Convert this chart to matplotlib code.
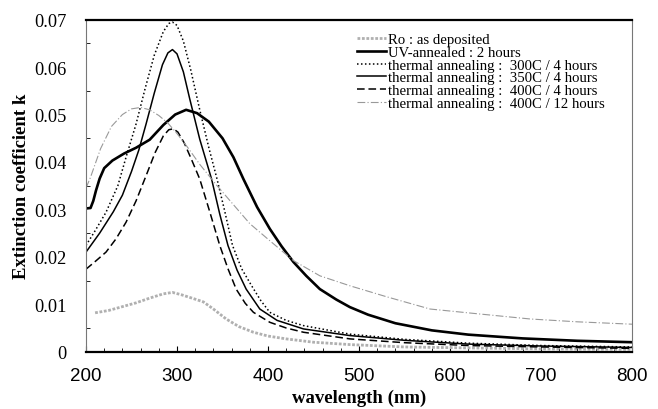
import numpy as np
import matplotlib
matplotlib.use("Agg")
import matplotlib.pyplot as plt

# digitised extinction coefficient k vs wavelength (nm)
wl_ro = [210, 225, 240, 255, 270, 285, 295, 305, 318, 329, 340, 354, 368, 384, 400, 420, 450, 490, 550, 620, 700, 800]
k_ro = [0.0082, 0.0087, 0.0095, 0.0103, 0.0113, 0.0122, 0.0125, 0.0120, 0.0112, 0.0105, 0.0090, 0.0069,
        0.0053, 0.0041, 0.0033, 0.0027, 0.0020, 0.0015, 0.0010, 0.0008, 0.0006, 0.0005]

wl_uv = [200, 205, 208, 211, 215, 220, 229, 242, 255, 270, 285, 298, 310, 322, 335, 350, 362, 373, 388,
         402, 415, 428, 442, 457, 475, 490, 510, 540, 580, 620, 680, 740, 800]
k_uv = [0.0302, 0.0303, 0.0318, 0.0340, 0.0365, 0.0387, 0.0403, 0.0418, 0.0430, 0.0447, 0.0478, 0.0500,
        0.0510, 0.0503, 0.0485, 0.0450, 0.0410, 0.0364, 0.0305, 0.0259, 0.0222, 0.0189, 0.0160, 0.0132,
        0.0110, 0.0094, 0.0078, 0.0060, 0.0045, 0.0036, 0.0028, 0.0023, 0.0020]

wl_300 = [200, 210, 222, 235, 244, 255, 265, 275, 285, 291, 295, 300, 307, 315, 325, 335, 344, 352, 361,
          371, 382, 392, 402, 420, 439, 490, 550, 620, 700, 800]
k_300 = [0.0224, 0.0255, 0.0294, 0.0350, 0.0410, 0.0480, 0.0555, 0.0625, 0.0675, 0.0692, 0.0695, 0.0688,
         0.0655, 0.0595, 0.0510, 0.0430, 0.0364, 0.0300, 0.0224, 0.0175, 0.0139, 0.0108, 0.0083, 0.0066,
         0.0055, 0.0037, 0.0026, 0.0018, 0.0013, 0.0010]

wl_350 = [200, 215, 230, 240, 250, 258, 266, 275, 284, 290, 295, 300, 307, 314, 325, 338, 347, 356, 366,
          376, 391, 410, 439, 490, 550, 620, 700, 800]
k_350 = [0.0210, 0.0250, 0.0295, 0.0330, 0.0380, 0.0425, 0.0480, 0.0545, 0.0605, 0.0630, 0.0637, 0.0628,
         0.0590, 0.0533, 0.0448, 0.0364, 0.0290, 0.0224, 0.0172, 0.0132, 0.0090, 0.0066, 0.0048, 0.0034,
         0.0024, 0.0016, 0.0012, 0.0009]

wl_400 = [200, 210, 222, 233, 244, 255, 266, 276, 285, 291, 296, 301, 308, 316, 325, 336, 347, 356, 365,
          375, 384, 402, 420, 439, 490, 550, 620, 700, 800]
k_400 = [0.0174, 0.0190, 0.0210, 0.0238, 0.0273, 0.0318, 0.0371, 0.0420, 0.0455, 0.0468, 0.0470, 0.0463,
         0.0440, 0.0405, 0.0364, 0.0295, 0.0224, 0.0175, 0.0132, 0.0102, 0.0083, 0.0062, 0.0050, 0.0041,
         0.0027, 0.0019, 0.0013, 0.0010, 0.0007]

wl_12h = [200, 205, 216, 228, 240, 250, 260, 270, 280, 290, 300, 312, 325, 344, 362, 380, 402, 428, 457,
          490, 530, 578, 630, 688, 740, 800]
k_12h = [0.0345, 0.0368, 0.0428, 0.0475, 0.0500, 0.0512, 0.0515, 0.0510, 0.0498, 0.0482, 0.0460, 0.0430,
         0.0395, 0.0350, 0.0310, 0.0270, 0.0234, 0.0192, 0.0160, 0.0139, 0.0116, 0.0090, 0.0080, 0.0069,
         0.0063, 0.0058]

labels = ["Ro : as deposited",
          "UV-annealed : 2 hours",
          "thermal annealing :  300C / 4 hours",
          "thermal annealing :  350C / 4 hours",
          "thermal annealing :  400C / 4 hours",
          "thermal annealing :  400C / 12 hours"]

SERIF = ["Liberation Serif", "DejaVu Serif"]
SANS = ["Liberation Sans", "DejaVu Sans"]

fig = plt.figure(figsize=(6.58, 4.10), dpi=100)
ax = fig.add_axes([86 / 658, 1 - 352.7 / 410, (632 - 86) / 658, (352.7 - 20.7) / 410])

ax.plot(wl_ro, k_ro, color="#b0b0b0", lw=2.0, ls=(0, (1, 0.6)), label=labels[0])
ax.plot(wl_uv, k_uv, color="black", lw=1.9, label=labels[1])
ax.plot(wl_300, k_300, color="black", lw=1.1, ls=(0, (1, 1.6)), label=labels[2])
ax.plot(wl_350, k_350, color="black", lw=1.1, label=labels[3])
ax.plot(wl_400, k_400, color="black", lw=1.1, ls=(0, (5, 2.5)), label=labels[4])
ax.plot(wl_12h, k_12h, color="#999999", lw=0.8, ls=(0, (7, 2, 1, 2)), label=labels[5])

ax.set_xlim(200, 800)
ax.set_ylim(0, 0.07)
ax.set_xticks(np.arange(200, 801, 100))
ax.set_xticks(np.arange(200, 801, 20), minor=True)
ax.set_yticks(np.arange(0, 0.0701, 0.01))
ax.set_yticks(np.arange(0.005, 0.07, 0.01), minor=True)
ax.set_yticklabels(["0"] + [f"{v:.2f}" for v in np.arange(0.01, 0.0701, 0.01)],
                   family=SERIF, fontsize=13.2)
ax.set_xticklabels([str(v) for v in range(200, 801, 100)], family=SANS, fontsize=13.5)
ax.tick_params(axis="x", which="major", direction="in", length=4, width=0.8, pad=11)
ax.tick_params(axis="x", which="minor", direction="in", length=3, width=0.6)
ax.tick_params(axis="y", which="major", length=0, pad=14)
ax.tick_params(axis="y", which="minor", direction="in", length=3, width=0.6)

for side in ("top", "bottom"):
    ax.spines[side].set_linewidth(1.6)
    ax.spines[side].set_color("black")
for side in ("left", "right"):
    ax.spines[side].set_linewidth(0.8)
    ax.spines[side].set_color("#777777")

ax.set_ylabel("Extinction coefficient k", family=SERIF, fontweight="bold", fontsize=13.5)
ax.yaxis.set_label_coords(-0.103, 0.5)
fig.text((86 + 632) / 2 / 658, 0.028, "wavelength (nm)", family=SERIF, fontweight="bold",
         fontsize=13.5, ha="center", va="center")

leg = ax.legend(loc="upper left", bbox_to_anchor=(0.496, 0.96), frameon=False,
                prop={"family": SERIF, "size": 10.6}, handlelength=2.0, handletextpad=0.1,
                labelspacing=-0.04, borderaxespad=0, borderpad=0)

fig.savefig("out.png", dpi=100)
